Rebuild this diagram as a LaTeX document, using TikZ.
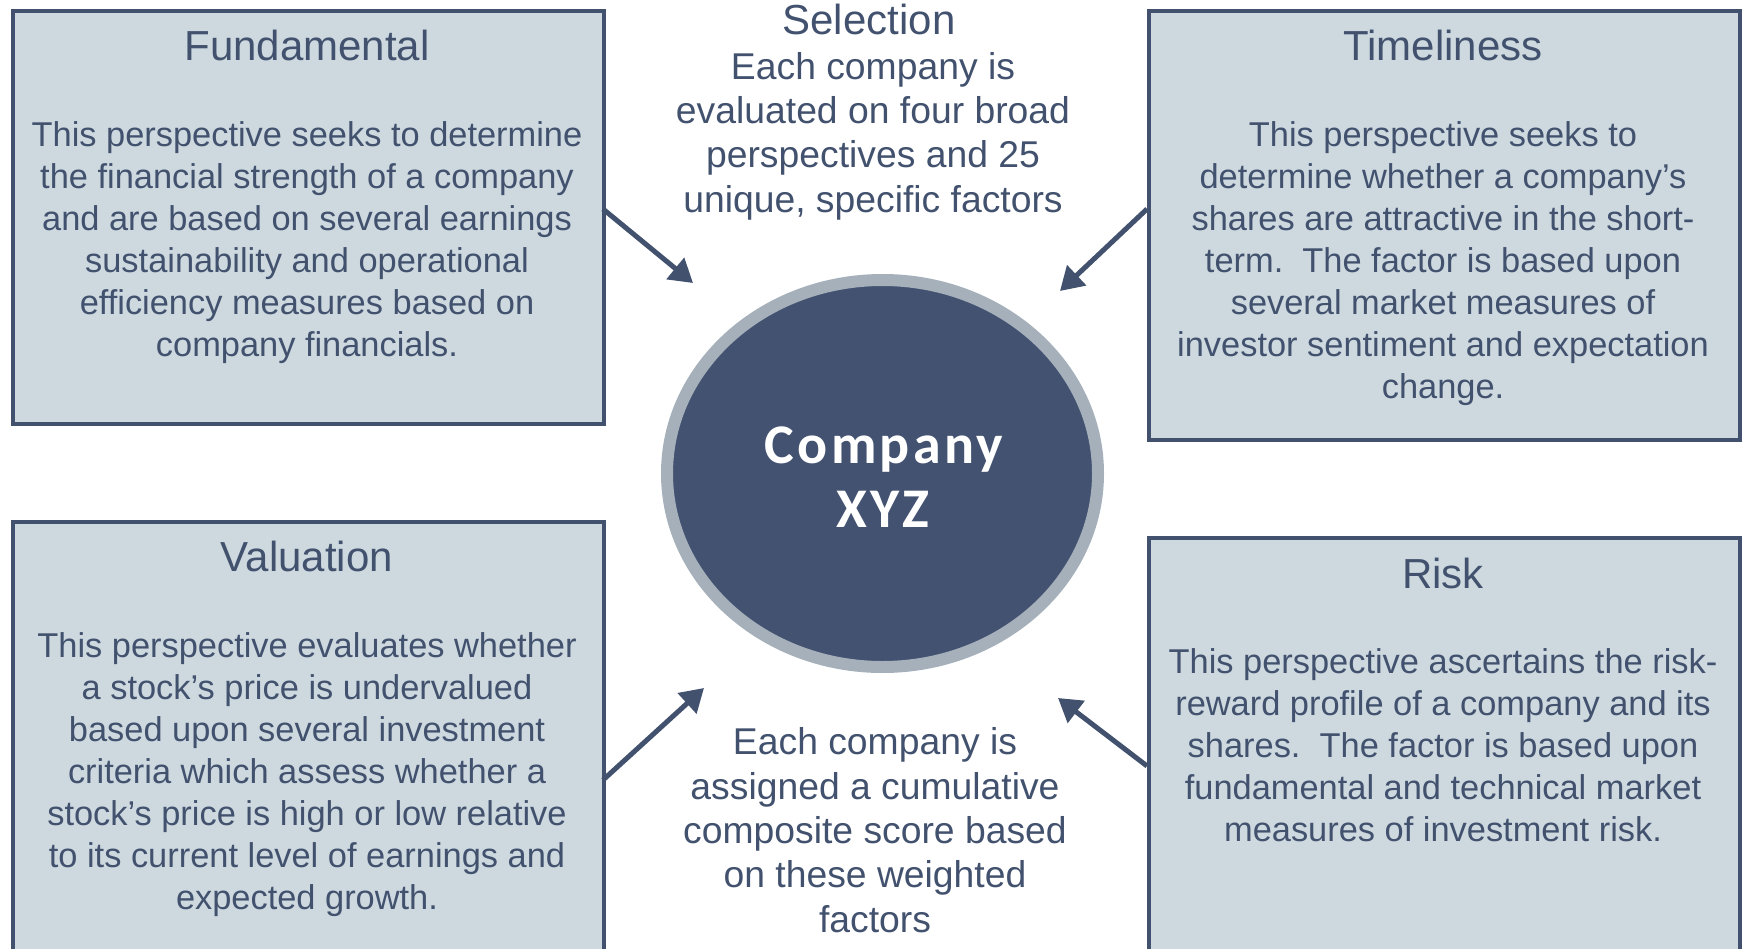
\documentclass[tikz,border=0pt]{standalone}
\usepackage{fontspec}
\setmainfont{Liberation Sans}
\newfontfamily\circfont[LetterSpace=6]{Carlito}
\usetikzlibrary{arrows.meta,shapes.geometric}
\definecolor{ink}{RGB}{66,82,110}
\definecolor{boxfill}{RGB}{205,216,223}
\definecolor{ringgray}{RGB}{165,176,187}
\definecolor{circfill}{RGB}{67,82,112}
\begin{document}
\begin{tikzpicture}[x=1pt,y=-1pt,
  panel/.style={draw=ink, line width=3.5pt, fill=boxfill, inner sep=0pt, anchor=north west},
  ttl/.style={text=ink, font=\fontsize{42}{50}\selectfont, anchor=base, inner sep=0pt},
  body/.style={text=ink, font=\fontsize{34.4}{42}\selectfont, align=center, anchor=base, inner sep=0pt},
  mid/.style={text=ink, font=\fontsize{37.3}{44.3}\selectfont, align=center, anchor=base, inner sep=0pt},
  arr/.style={draw=ink, line width=5pt, -{Triangle[length=23pt,width=27pt]}}]
\useasboundingbox (0,0) rectangle (1746,948);
\begin{scope}
\clip (0,0) rectangle (1746,948);
% boxes
\node[panel, minimum width=591pt, minimum height=413pt] (fund) at (11,9) {};
\node[panel, minimum width=591pt, minimum height=429pt] (time) at (1147,9) {};
\node[panel, minimum width=591pt, minimum height=460pt] (valu) at (11,520) {};
\node[panel, minimum width=591pt, minimum height=440pt] (risk) at (1147,536) {};
% arrows
\coordinate (fs) at (603,209); \coordinate (fe) at (693,283);
\coordinate (ts) at (1147,209); \coordinate (te) at (1060,291);
\coordinate (vs) at (603,780); \coordinate (ve) at (704,688);
\coordinate (rs) at (1147,766); \coordinate (re) at (1058,698);
\draw[arr] (fs) -- (fe);
\draw[arr] (ts) -- (te);
\draw[arr] (vs) -- (ve);
\draw[arr] (rs) -- (re);
% circle
\node[ellipse, draw=ringgray, line width=12pt, fill=circfill, minimum width=431pt, minimum height=387pt, inner sep=0pt] (co) at (882.5,473.5) {};
\node[text=white, font=\circfont\bfseries\fontsize{56}{64}\selectfont, anchor=base, inner sep=0pt] (coa) at (884,463) {Company};
\node[text=white, font=\circfont\bfseries\fontsize{56}{64}\selectfont, anchor=base, inner sep=0pt] (cob) at (883,527) {XYZ};
% titles
\node[ttl] (fundT) at (307,60) {Fundamental};
\node[ttl] (timeT) at (1443,60) {Timeliness};
\node[ttl] (valuT) at (307,571) {Valuation};
\node[ttl] (riskT) at (1443,588) {Risk};
\node[ttl] (selT) at (869,34) {Selection};
% bodies (anchor base = baseline of the last line)
\node[body] (fundB) at (307,356) {This perspective seeks to determine\\the financial strength of a company\\and are based on several earnings\\sustainability and operational\\efficiency measures based on\\company financials.};
\node[body] (timeB) at (1443,398) {This perspective seeks to\\determine whether a company’s\\shares are attractive in the short-\\term.\ \ The factor is based upon\\several market measures of\\investor sentiment and expectation\\change.};
\node[body] (valuB) at (307,909) {This perspective evaluates whether\\a stock’s price is undervalued\\based upon several investment\\criteria which assess whether a\\stock’s price is high or low relative\\to its current level of earnings and\\expected growth.};
\node[body] (riskB) at (1443,841) {This perspective ascertains the risk-\\reward profile of a company and its\\shares.\ \ The factor is based upon\\fundamental and technical market\\measures of investment risk.};
\node[mid] (selB) at (873,212) {Each company is\\evaluated on four broad\\perspectives and 25\\unique, specific factors};
\node[mid] (scoreB) at (875,932) {Each company is\\assigned a cumulative\\composite score based\\on these weighted\\factors};
\end{scope}
\end{tikzpicture}
\end{document}
